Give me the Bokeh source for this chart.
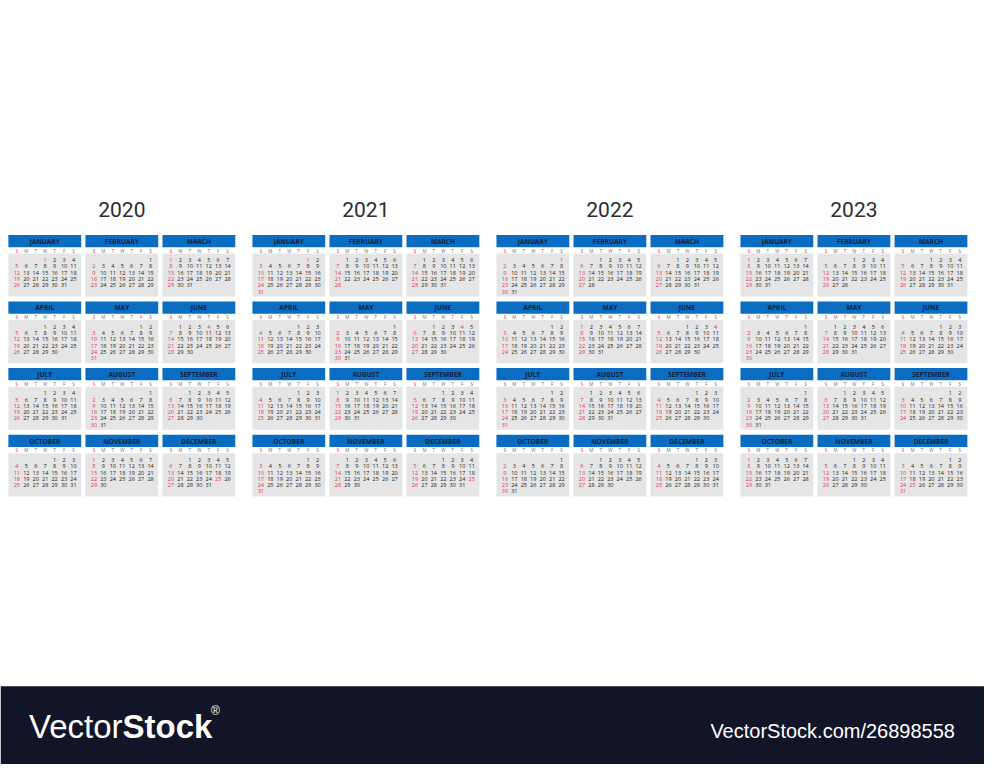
from bokeh.plotting import figure
from bokeh.models import ColumnDataSource, Range1d
from bokeh.core.properties import value
from bokeh.embed import file_html
from bokeh.resources import INLINE

# ---------------- data ----------------
years = [2020, 2021, 2022, 2023]
month_names = ["JANUARY", "FEBRUARY", "MARCH", "APRIL", "MAY", "JUNE",
               "JULY", "AUGUST", "SEPTEMBER", "OCTOBER", "NOVEMBER", "DECEMBER"]
weekday_letters = ["S", "M", "T", "W", "T", "F", "S"]
# weekday of the 1st of each month (0 = Sunday)
first_weekday_2020 = [3, 6, 0, 3, 5, 1, 3, 6, 2, 4, 0, 2]
first_weekday_2021 = [5, 1, 1, 4, 6, 2, 4, 0, 3, 5, 1, 3]
first_weekday_2022 = [6, 2, 2, 5, 0, 3, 5, 1, 4, 6, 2, 4]
first_weekday_2023 = [0, 3, 3, 6, 1, 4, 6, 2, 5, 0, 3, 5]
days_2020 = [31, 29, 31, 30, 31, 30, 31, 31, 30, 31, 30, 31]
days_2021 = [31, 28, 31, 30, 31, 30, 31, 31, 30, 31, 30, 31]
days_2022 = [31, 28, 31, 30, 31, 30, 31, 31, 30, 31, 30, 31]
days_2023 = [31, 28, 31, 30, 31, 30, 31, 31, 30, 31, 30, 31]
red_dates = [(1, 1), (6, 4), (12, 25)]  # (month, day) shown in red besides Sundays
logo_left = "Vector"
logo_bold = "Stock"
logo_url = "VectorStock.com/26898558"

first_weekdays = [first_weekday_2020, first_weekday_2021, first_weekday_2022, first_weekday_2023]
month_days = [days_2020, days_2021, days_2022, days_2023]

# ---------------- layout ----------------
GROUP_X0, GROUP_DX = 8.0, 248.0
MONTH_DX, MONTH_W = 78.3, 74.0
ROW_Y0, ROW_DY = 239.3, 68.0
HEADER_H = 12.5
BODY_TOP, BODY_BOTTOM = 19.0, 63.0
WEEK_Y = 16.0
DAY_X0, DAY_DX = 8.6, 9.6
DAY_Y0, DAY_DY = 25.8, 6.4

BLUE = "#0b6dc2"
GRAY = "#e5e5e5"
RED = "#e5315a"
DARK = "#222222"
NAVY = "#13233d"

hdr = dict(left=[], right=[], top=[], bottom=[])
body = dict(left=[], right=[], top=[], bottom=[])
hdr_txt = dict(x=[], y=[], text=[])
wk_txt = dict(x=[], y=[], text=[], color=[])
day_txt = dict(x=[], y=[], text=[], color=[])
year_txt = dict(x=[], y=[], text=[])

for g, yr in enumerate(years):
    gx = GROUP_X0 + GROUP_DX * g
    year_txt["x"].append(gx + (2 * MONTH_DX + MONTH_W) / 2)
    year_txt["y"].append(213)
    year_txt["text"].append(str(yr))
    for m in range(12):
        r, c = divmod(m, 3)
        x0 = gx + MONTH_DX * c
        y0 = ROW_Y0 + ROW_DY * r
        hdr["left"].append(x0); hdr["right"].append(x0 + MONTH_W)
        hdr["top"].append(y0); hdr["bottom"].append(y0 + HEADER_H)
        body["left"].append(x0); body["right"].append(x0 + MONTH_W)
        body["top"].append(y0 + BODY_TOP); body["bottom"].append(y0 + BODY_BOTTOM)
        hdr_txt["x"].append(x0 + MONTH_W / 2)
        hdr_txt["y"].append(y0 + HEADER_H / 2 + 0.3)
        hdr_txt["text"].append(month_names[m])
        for k, wl in enumerate(weekday_letters):
            wk_txt["x"].append(x0 + DAY_X0 + DAY_DX * k)
            wk_txt["y"].append(y0 + WEEK_Y)
            wk_txt["text"].append(wl)
            wk_txt["color"].append(RED if k == 0 else "#707070")
        fw = first_weekdays[g][m]
        for d in range(1, month_days[g][m] + 1):
            idx = fw + d - 1
            rr, cc = divmod(idx, 7)
            day_txt["x"].append(x0 + DAY_X0 + DAY_DX * cc)
            day_txt["y"].append(y0 + DAY_Y0 + DAY_DY * rr)
            day_txt["text"].append(str(d))
            red = cc == 0 or (m + 1, d) in red_dates
            day_txt["color"].append(RED if red else DARK)

p = figure(width=984, height=764, x_range=Range1d(0, 1000), y_range=Range1d(780, 0),
           output_backend="svg", toolbar_location=None,
           x_axis_location=None, y_axis_location=None, min_border=0,
           outline_line_color=None, background_fill_color="white",
           border_fill_color="white")
p.grid.grid_line_color = None

# bottom banner
p.quad(left=[0], right=[1000], top=[700], bottom=[780], fill_color="#121428", line_color=None)

p.quad(source=ColumnDataSource(body), left="left", right="right", top="top", bottom="bottom",
       fill_color=GRAY, line_color=None)
p.quad(source=ColumnDataSource(hdr), left="left", right="right", top="top", bottom="bottom",
       fill_color=BLUE, line_color=None)

p.text(source=ColumnDataSource(year_txt), x="x", y="y", text="text",
       text_font=value("Roboto"), text_font_size="21px", text_color="#2d2d2d",
       text_align="center", text_baseline="middle")
p.text(source=ColumnDataSource(hdr_txt), x="x", y="y", text="text",
       text_font=value("Open Sans"), text_font_size="6.6px", text_font_style="bold",
       text_color=NAVY, text_align="center", text_baseline="middle")
p.text(source=ColumnDataSource(wk_txt), x="x", y="y", text="text", text_color="color",
       text_font=value("Open Sans"), text_font_size="4.5px",
       text_align="center", text_baseline="middle")
p.text(source=ColumnDataSource(day_txt), x="x", y="y", text="text", text_color="color",
       text_font=value("Open Sans"), text_font_size="5.5px",
       text_align="center", text_baseline="middle")

# watermark banner texts
p.text(x=[29], y=[741], text=[logo_left], text_font=value("Liberation Sans"),
       text_font_size="33px", text_color="white", text_align="left", text_baseline="middle")
p.text(x=[124], y=[741], text=[logo_bold], text_font=value("Liberation Sans"),
       text_font_size="33px", text_font_style="bold", text_color="white",
       text_align="left", text_baseline="middle")
p.text(x=[214], y=[725], text=["®"], text_font=value("Liberation Sans"),
       text_font_size="12px", text_color="white", text_align="left", text_baseline="middle")
p.text(x=[970], y=[746], text=[logo_url], text_font=value("Liberation Sans"),
       text_font_size="20px", text_color="white", text_align="right", text_baseline="middle")

open("out.html", "w").write(file_html(p, INLINE))
